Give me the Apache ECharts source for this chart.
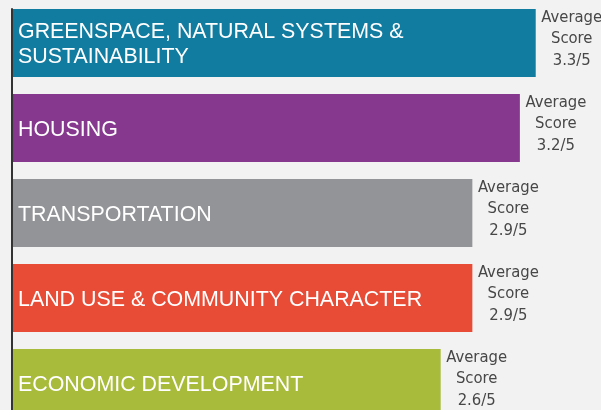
<!DOCTYPE html>
<html><head><meta charset="utf-8">
<script src="https://cdn.jsdelivr.net/npm/echarts@6/dist/echarts.min.js"></script>
<style>html,body{margin:0;padding:0;background:#f2f2f2;}#c{width:601px;height:410px;}</style>
</head><body><div id="c"></div>
<script>
const categories = ['GREENSPACE, NATURAL SYSTEMS &\nSUSTAINABILITY','HOUSING','TRANSPORTATION','LAND USE & COMMUNITY CHARACTER','ECONOMIC DEVELOPMENT'];
const barValues = [3.3, 3.2, 2.9, 2.9, 2.7];
const scoreLabels = ['3.3', '3.2', '2.9', '2.9', '2.6'];
const colors = ['#127ba0', '#85388e', '#939497', '#e84c37', '#a9bb3b'];

const chart = echarts.init(document.getElementById('c'));
chart.setOption({
  backgroundColor: '#f2f2f2',
  animation: false,
  grid: [
    {left: 13, top: 0.5, height: 425, width: 633.6, outerBoundsMode: 'none', containLabel: false},
    {left: 12, top: 9, bottom: 0, width: 10, outerBoundsMode: 'none', containLabel: false}
  ],
  xAxis: [
    {type: 'value', min: 0, max: 4, show: false, gridIndex: 0},
    {type: 'value', show: false, gridIndex: 1}
  ],
  yAxis: [
    {type: 'category', data: categories, inverse: true, gridIndex: 0,
     axisLine: {show: false}, axisLabel: {show: false}, splitLine: {show: false},
     axisTick: {show: true, inside: true, length: 2, alignWithLabel: true,
       interval: function (i) { return i === 2; }, lineStyle: {color: '#333', width: 2}}},
    {type: 'value', gridIndex: 1, axisLine: {show: true, lineStyle: {color: '#333', width: 2}},
     axisTick: {show: false}, axisLabel: {show: false}, splitLine: {show: false}}
  ],
  series: [
    {type: 'bar', barWidth: 68, barGap: '-100%',
     data: barValues.map((v, i) => ({value: v, itemStyle: {color: colors[i]}})),
     label: {show: true, position: 'insideLeft', distance: 5, offset: [0, 2],
       formatter: p => categories[p.dataIndex],
       color: '#fff', fontSize: 21.4, lineHeight: 25, fontFamily: 'Liberation Sans, Arial, sans-serif'}},
    {type: 'bar', barWidth: 68, barGap: '-100%',
     data: barValues.map(v => ({value: v, itemStyle: {color: 'rgba(0,0,0,0)'}})),
     label: {show: true, position: 'right', distance: 7, align: 'center', offset: [29, -4],
       formatter: p => 'Average\nScore\n' + scoreLabels[p.dataIndex] + '/5',
       color: '#474747', fontSize: 16.5, lineHeight: 21.5,
       fontFamily: '"DejaVu Sans Condensed", sans-serif'}}
  ]
});
</script></body></html>
